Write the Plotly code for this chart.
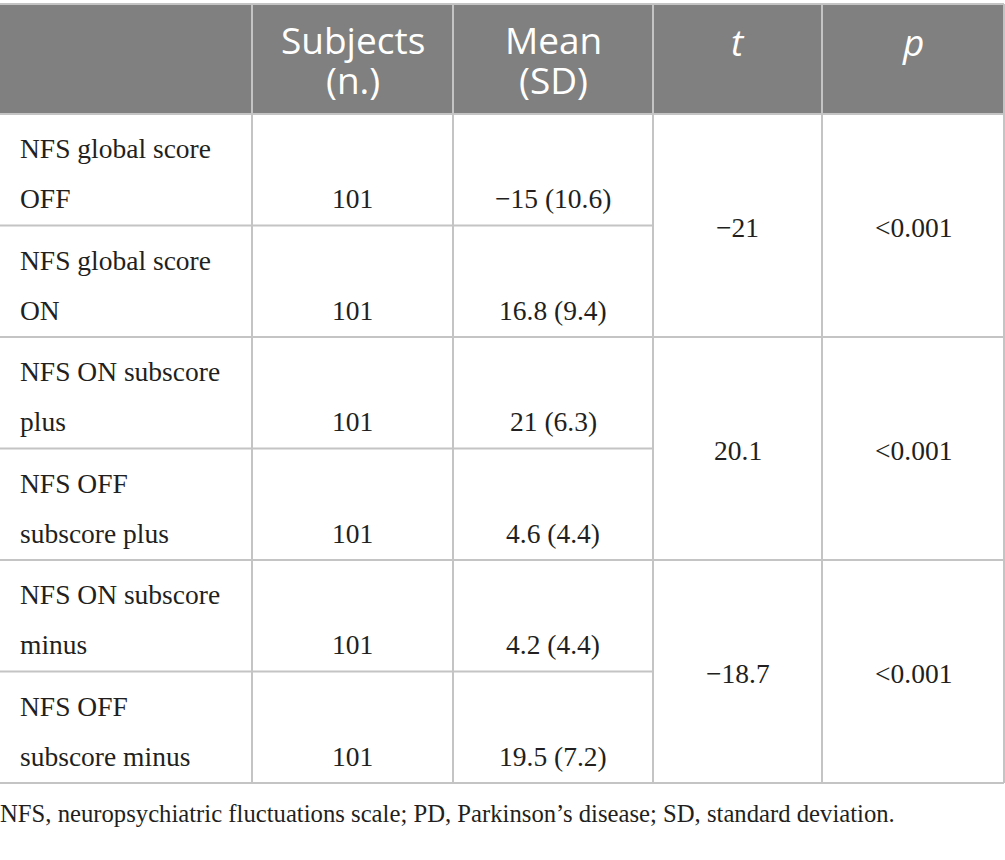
import plotly.graph_objects as go

# ---- data ----
header_lines = [["", ""], ["Subjects", "(n.)"], ["Mean", "(SD)"], ["t", ""], ["p", ""]]
label_line1 = ["NFS global score", "NFS global score", "NFS ON subscore",
               "NFS OFF", "NFS ON subscore", "NFS OFF"]
label_line2 = ["OFF", "ON", "plus", "subscore plus", "minus", "subscore minus"]
subjects_n = [101, 101, 101, 101, 101, 101]
mean_vals = [-15, 16.8, 21, 4.6, 4.2, 19.5]
sd_vals = [10.6, 9.4, 6.3, 4.4, 4.4, 7.2]
t_vals = [-21, 20.1, -18.7]
p_vals = ["<0.001", "<0.001", "<0.001"]
footnote = "NFS, neuropsychiatric fluctuations scale; PD, Parkinson\u2019s disease; SD, standard deviation."

# ---- layout constants ----
W, H = 1005, 860
col_x = [0, 252, 453, 653, 822, 1004]
head_top, head_bot = 4, 114
row_h = (783 - head_bot) / 6
row_y = [head_bot + i * row_h for i in range(7)]
grid = "#c4c4c4"
head_fill = "#808080"
txt = "#231f20"
serif = "Liberation Serif, Times New Roman, serif"
sans = "Open Sans, Noto Sans, sans-serif"
body_fs = 27.5
head_fs = 37


def fmt(v):
    return f"{v:g}".replace("-", "\u2212")


fig = go.Figure()
shapes = []
ann = []

# header background
shapes.append(dict(type="rect", x0=col_x[0], x1=col_x[-1], y0=head_top, y1=head_bot,
                   fillcolor=head_fill, line=dict(width=0), layer="below"))


def hline(y, x0, x1):
    shapes.append(dict(type="line", x0=x0, x1=x1, y0=y, y1=y,
                       line=dict(color=grid, width=2)))


def vline(x, y0, y1):
    shapes.append(dict(type="line", x0=x, x1=x, y0=y0, y1=y1,
                       line=dict(color=grid, width=2)))


hline(head_top, col_x[0], col_x[-1])
hline(head_bot, col_x[0], col_x[-1])
for i in range(1, 7):
    if i % 2 == 0:
        hline(row_y[i], col_x[0], col_x[-1])
    else:
        hline(row_y[i], col_x[0], col_x[3])
for x in col_x[1:]:
    vline(x, head_top, row_y[-1])

# header text
for c, lines in enumerate(header_lines):
    cx = (col_x[c] + col_x[c + 1]) / 2
    italic = c >= 3
    for k, line in enumerate(lines):
        if not line:
            continue
        base = 52 + 40 * k if not italic else 54
        ann.append(dict(x=cx, y=base - 0.33 * head_fs, text=line, showarrow=False,
                        xanchor="center", yanchor="middle",
                        font=dict(family=sans, size=head_fs, color="white",
                                  style="italic" if italic else "normal")))

# body rows
for i in range(6):
    top = row_y[i]
    b1 = top + 43
    b2 = top + 93
    ann.append(dict(x=col_x[0] + 18, y=b1 - 0.3 * body_fs, text=label_line1[i],
                    showarrow=False, xanchor="left", yanchor="middle",
                    font=dict(family=serif, size=body_fs, color=txt)))
    ann.append(dict(x=col_x[0] + 18, y=b2 - 0.3 * body_fs, text=label_line2[i],
                    showarrow=False, xanchor="left", yanchor="middle",
                    font=dict(family=serif, size=body_fs, color=txt)))
    ann.append(dict(x=(col_x[1] + col_x[2]) / 2, y=b2 - 0.3 * body_fs,
                    text=str(subjects_n[i]), showarrow=False,
                    xanchor="center", yanchor="middle",
                    font=dict(family=serif, size=body_fs, color=txt)))
    ann.append(dict(x=(col_x[2] + col_x[3]) / 2, y=b2 - 0.3 * body_fs,
                    text=f"{fmt(mean_vals[i])} ({fmt(sd_vals[i])})", showarrow=False,
                    xanchor="center", yanchor="middle",
                    font=dict(family=serif, size=body_fs, color=txt)))

# merged t / p cells
for j in range(3):
    cy = (row_y[2 * j] + row_y[2 * j + 2]) / 2 + 2
    ann.append(dict(x=(col_x[3] + col_x[4]) / 2, y=cy, text=fmt(t_vals[j]),
                    showarrow=False, xanchor="center", yanchor="middle",
                    font=dict(family=serif, size=body_fs, color=txt)))
    ann.append(dict(x=(col_x[4] + col_x[5]) / 2, y=cy, text=p_vals[j],
                    showarrow=False, xanchor="center", yanchor="middle",
                    font=dict(family=serif, size=body_fs, color=txt)))

# footnote
ann.append(dict(x=0, y=813, xshift=-2, text=footnote, showarrow=False, xanchor="left",
                yanchor="middle", font=dict(family=serif, size=24.7, color=txt)))

fig.update_layout(
    width=W, height=H, margin=dict(l=0, r=0, t=0, b=0),
    paper_bgcolor="white", plot_bgcolor="white",
    xaxis=dict(range=[0, W], visible=False, fixedrange=True),
    yaxis=dict(range=[H, 0], visible=False, fixedrange=True),
    shapes=shapes, annotations=ann, showlegend=False,
)
fig.write_html("out.html", config={"displayModeBar": False},
               post_script="document.body.style.margin='0';document.body.style.overflow='hidden';")
